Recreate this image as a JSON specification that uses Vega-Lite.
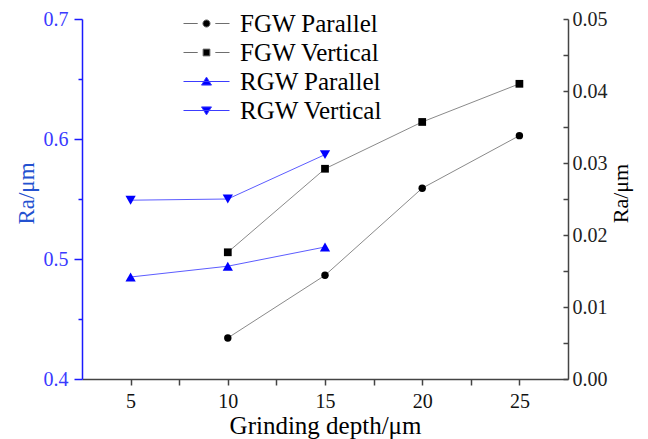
{
  "$schema": "https://vega.github.io/schema/vega-lite/v6.json",
  "width": 486,
  "height": 360,
  "autosize": {"type": "none"},
  "padding": {"left": 82, "top": 19, "right": 80, "bottom": 60},
  "background": "#ffffff",
  "config": {
    "view": {"stroke": null},
    "font": "Liberation Serif",
    "axis": {
      "grid": false,
      "labelFont": "Liberation Serif",
      "titleFont": "Liberation Serif",
      "labelFontSize": 20,
      "titleFontWeight": "normal",
      "domainWidth": 1.5,
      "tickWidth": 1.5
    },
    "legend": {"labelFont": "Liberation Serif"}
  },
  "data": {
    "values": [
      {"depth": 5, "ra": 0.485, "series": "RGW Parallel", "side": "left"},
      {"depth": 10, "ra": 0.494, "series": "RGW Parallel", "side": "left"},
      {"depth": 15, "ra": 0.51, "series": "RGW Parallel", "side": "left"},
      {"depth": 5, "ra": 0.549, "series": "RGW Vertical", "side": "left"},
      {"depth": 10, "ra": 0.55, "series": "RGW Vertical", "side": "left"},
      {"depth": 15, "ra": 0.587, "series": "RGW Vertical", "side": "left"},
      {"depth": 10, "ra": 0.0057, "series": "FGW Parallel", "side": "right"},
      {"depth": 15, "ra": 0.0144, "series": "FGW Parallel", "side": "right"},
      {"depth": 20, "ra": 0.0265, "series": "FGW Parallel", "side": "right"},
      {"depth": 25, "ra": 0.0338, "series": "FGW Parallel", "side": "right"},
      {"depth": 10, "ra": 0.0176, "series": "FGW Vertical", "side": "right"},
      {"depth": 15, "ra": 0.0292, "series": "FGW Vertical", "side": "right"},
      {"depth": 20, "ra": 0.0357, "series": "FGW Vertical", "side": "right"},
      {"depth": 25, "ra": 0.041, "series": "FGW Vertical", "side": "right"}
    ]
  },
  "encoding": {
    "x": {
      "field": "depth",
      "type": "quantitative",
      "scale": {"domain": [2.5, 27.5], "nice": false, "zero": false},
      "axis": {
        "title": "Grinding depth/μm",
        "titleFontSize": 25,
        "titleColor": "#000000",
        "titlePadding": 2,
        "values": [5, 7.5, 10, 12.5, 15, 17.5, 20, 22.5, 25],
        "labelExpr": "datum.value % 5 === 0 ? datum.label : ''",
        "labelColor": "#111111",
        "labelPadding": 6,
        "labelFlush": false,
        "tickSize": 6,
        "domainColor": "#444444",
        "tickColor": "#444444"
      }
    }
  },
  "layer": [
    {
      "transform": [{"filter": "datum.side === 'left'"}],
      "encoding": {
        "y": {
          "field": "ra",
          "type": "quantitative",
          "scale": {"domain": [0.4, 0.7], "nice": false, "zero": false},
          "axis": {
            "orient": "left",
            "title": "Ra/μm",
            "titleFontSize": 23,
            "titleColor": "#2452d0",
            "titleBaseline": "alphabetic",
            "titlePadding": 10,
            "titleY": 174,
            "values": [0.4, 0.45, 0.5, 0.55, 0.6, 0.65, 0.7],
            "labelExpr": "round(datum.value * 100) % 10 === 0 ? format(datum.value, '.1f') : ''",
            "labelColor": "#3a3aff",
            "labelPadding": 6,
            "tickSize": {"condition": {"test": "round(datum.value * 100) % 10 === 0", "value": 8}, "value": 4},
            "domainColor": "#1a1aff",
            "tickColor": "#1a1aff"
          }
        }
      },
      "layer": [
        {
          "mark": {"type": "line", "color": "#5c5cff", "strokeWidth": 1},
          "encoding": {"detail": {"field": "series"}}
        },
        {
          "transform": [{"filter": "datum.series === 'RGW Parallel'"}],
          "mark": {"type": "point", "shape": "triangle-up", "filled": true, "color": "#0000ff", "size": 105, "opacity": 1}
        },
        {
          "transform": [{"filter": "datum.series === 'RGW Vertical'"}],
          "mark": {"type": "point", "shape": "triangle-down", "filled": true, "color": "#0000ff", "size": 105, "opacity": 1}
        },
        {
          "mark": {"type": "point", "filled": true, "opacity": 0},
          "encoding": {
            "fill": {
              "field": "series",
              "type": "nominal",
              "scale": {
                "domain": ["FGW Parallel", "FGW Vertical", "RGW Parallel", "RGW Vertical"],
                "range": ["#000000", "#000000", "#0000ff", "#0000ff"]
              }
            },
            "stroke": {
              "field": "series",
              "type": "nominal",
              "scale": {
                "domain": ["FGW Parallel", "FGW Vertical", "RGW Parallel", "RGW Vertical"],
                "range": ["#6e6e6e", "#6e6e6e", "#3c3cff", "#3c3cff"]
              }
            },
            "shape": {
              "field": "series",
              "type": "nominal",
              "scale": {
                "domain": ["FGW Parallel", "FGW Vertical", "RGW Parallel", "RGW Vertical"],
                "range": [
                  "M-5.75,0H-2.2M2.2,0H5.75M0.9,0A0.9,0.9 0 1,1 -0.9,0A0.9,0.9 0 1,1 0.9,0Z",
                  "M-5.75,0H-2.2M2.2,0H5.75M-0.85,-0.85H0.85V0.85H-0.85Z",
                  "M-5.75,0H5.75M0,-1.1L1.25,0.9H-1.25Z",
                  "M-5.75,0H5.75M0,1.1L1.25,-0.9H-1.25Z"
                ]
              },
              "legend": {
                "title": null,
                "orient": "none",
                "legendX": 112,
                "legendY": -8,
                "padding": 0,
                "symbolSize": 64,
                "symbolOpacity": 1,
                "symbolStrokeWidth": 1,
                "labelFont": "Liberation Serif",
                "labelFontSize": 25,
                "labelLimit": 300,
                "labelColor": "#000000",
                "labelOffset": 21,
                "rowPadding": 3
              }
            }
          }
        }
      ]
    },
    {
      "transform": [{"filter": "datum.side === 'right'"}],
      "encoding": {
        "y": {
          "field": "ra",
          "type": "quantitative",
          "scale": {"domain": [0, 0.05], "nice": false, "zero": false},
          "axis": {
            "orient": "right",
            "title": "Ra/μm",
            "titleFontSize": 22,
            "titleColor": "#000000",
            "titleAngle": 270,
            "titleBaseline": "alphabetic",
            "titlePadding": 20,
            "titleY": 174,
            "values": [0, 0.005, 0.01, 0.015, 0.02, 0.025, 0.03, 0.035, 0.04, 0.045, 0.05],
            "labelExpr": "round(datum.value * 1000) % 10 === 0 ? format(datum.value, '.2f') : ''",
            "labelColor": "#222222",
            "labelPadding": 9,
            "tickSize": -5,
            "domainColor": "#444444",
            "tickColor": "#444444"
          }
        }
      },
      "layer": [
        {
          "mark": {"type": "line", "color": "#8a8a8a", "strokeWidth": 1},
          "encoding": {"detail": {"field": "series"}}
        },
        {
          "transform": [{"filter": "datum.series === 'FGW Parallel'"}],
          "mark": {"type": "point", "shape": "circle", "filled": true, "color": "#000000", "size": 55, "opacity": 1}
        },
        {
          "transform": [{"filter": "datum.series === 'FGW Vertical'"}],
          "mark": {"type": "point", "shape": "square", "filled": true, "color": "#000000", "size": 60, "opacity": 1}
        }
      ]
    }
  ],
  "resolve": {"scale": {"y": "independent"}}
}
